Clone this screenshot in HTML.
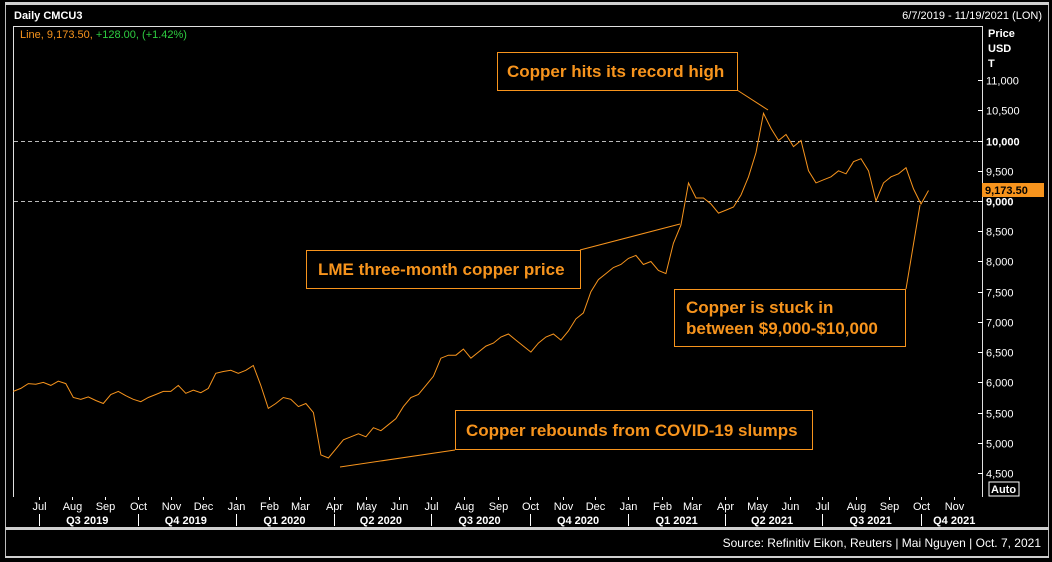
<!DOCTYPE html>
<html><head><meta charset="utf-8"><style>
body{margin:0;background:#000;width:1052px;height:562px;overflow:hidden;font-family:"Liberation Sans",sans-serif}
svg{display:block}
</style></head><body>
<svg id="chart" width="1052" height="562" xmlns="http://www.w3.org/2000/svg">
<rect x="0" y="0" width="1052" height="562" fill="#000"/>
<rect x="5" y="2" width="1044" height="3" fill="#cfcfcf"/>
<line x1="5.5" y1="5" x2="5.5" y2="557" stroke="#bdbdbd"/>
<line x1="1048.5" y1="5" x2="1048.5" y2="557" stroke="#bdbdbd"/>
<text x="14" y="19" fill="#fff" font-size="11" font-weight="bold">Daily CMCU3</text>
<text x="1042" y="19" fill="#fff" font-size="11" text-anchor="end">6/7/2019 - 11/19/2021 (LON)</text>
<path d="M13.5 497 V26.5 H982.5 V497" fill="none" stroke="#e0e0e0"/>
<text x="20" y="38" font-size="11"><tspan fill="#f7941d">Line, 9,173.50, </tspan><tspan fill="#2ecc40">+128.00, (+1.42%)</tspan></text>
<text x="988" y="37" fill="#fff" font-size="11" font-weight="bold">Price</text>
<text x="988" y="52" fill="#fff" font-size="11" font-weight="bold">USD</text>
<text x="988" y="67" fill="#fff" font-size="11" font-weight="bold">T</text>
<g id="yaxis"></g>
<g id="xaxis"></g>
<path id="series" fill="none" stroke="#f7941d" stroke-width="1"/>
<rect x="982" y="183" width="62" height="14" fill="#f7941d"/>
<text x="985" y="194" fill="#000" font-size="11" font-weight="bold">9,173.50</text>
<rect x="989" y="482" width="30" height="14" fill="#000" stroke="#fff"/>
<text x="991" y="493" fill="#fff" font-size="11" font-weight="bold">Auto</text>
<rect x="5" y="527" width="1044" height="3" fill="#cfcfcf"/>
<rect x="5" y="556" width="1044" height="2" fill="#cfcfcf"/>
<text x="1041" y="547" fill="#fff" font-size="12" text-anchor="end">Source: Refinitiv Eikon, Reuters | Mai Nguyen | Oct. 7, 2021</text>
<g font-size="17" font-weight="bold" fill="#f7941d" stroke="none">
<rect x="497.5" y="52.5" width="240" height="38" fill="#000" stroke="#f7941d"/>
<text x="507" y="77">Copper hits its record high</text>
<line x1="737" y1="90" x2="768" y2="110" stroke="#f7941d"/>
<rect x="306.5" y="250.5" width="274" height="38" fill="#000" stroke="#f7941d"/>
<text x="318" y="275">LME three-month copper price</text>
<line x1="580" y1="250" x2="680" y2="224" stroke="#f7941d"/>
<rect x="674.5" y="289.5" width="231" height="57" fill="#000" stroke="#f7941d"/>
<text x="686" y="313">Copper is stuck in</text>
<text x="686" y="334">between $9,000-$10,000</text>
<line x1="906" y1="289" x2="920" y2="205" stroke="#f7941d"/>
<rect x="455.5" y="410.5" width="357" height="39" fill="#000" stroke="#f7941d"/>
<text x="466" y="436">Copper rebounds from COVID-19 slumps</text>
<line x1="455" y1="450" x2="340" y2="467" stroke="#f7941d"/>
</g>
</svg>
<script>
const startDate = "2019-06-07";
const weeklyPrices = [5850,5900,5980,5970,6000,5950,6020,5980,5750,5720,5760,5700,5650,5800,5850,5780,5720,5680,5750,5800,5850,5850,5950,5820,5870,5830,5900,6150,6180,6200,6150,6200,6280,5950,5570,5650,5750,5720,5600,5650,5500,4800,4750,4900,5050,5100,5150,5100,5250,5200,5300,5400,5600,5750,5800,5950,6100,6400,6450,6450,6550,6400,6500,6600,6650,6750,6800,6700,6600,6500,6650,6750,6800,6700,6850,7050,7150,7500,7700,7800,7900,7950,8050,8100,7950,8000,7850,7800,8300,8600,9300,9050,9050,8950,8800,8850,8900,9100,9400,9800,10450,10200,10000,10100,9900,10000,9500,9300,9350,9400,9500,9450,9650,9700,9500,9000,9300,9400,9450,9550,9200,8950,9173.5];
const yTicks = [4500,5000,5500,6000,6500,7000,7500,8000,8500,9000,9500,10000,10500,11000];
const monthTicks = [["2019-07-01","Jul"],["2019-08-01","Aug"],["2019-09-01","Sep"],["2019-10-01","Oct"],["2019-11-01","Nov"],["2019-12-01","Dec"],["2020-01-01","Jan"],["2020-02-01","Feb"],["2020-03-01","Mar"],["2020-04-01","Apr"],["2020-05-01","May"],["2020-06-01","Jun"],["2020-07-01","Jul"],["2020-08-01","Aug"],["2020-09-01","Sep"],["2020-10-01","Oct"],["2020-11-01","Nov"],["2020-12-01","Dec"],["2021-01-01","Jan"],["2021-02-01","Feb"],["2021-03-01","Mar"],["2021-04-01","Apr"],["2021-05-01","May"],["2021-06-01","Jun"],["2021-07-01","Jul"],["2021-08-01","Aug"],["2021-09-01","Sep"],["2021-10-01","Oct"],["2021-11-01","Nov"]];
const quarterLabels = [["2019-08-15","Q3 2019"],["2019-11-15","Q4 2019"],["2020-02-15","Q1 2020"],["2020-05-15","Q2 2020"],["2020-08-15","Q3 2020"],["2020-11-15","Q4 2020"],["2021-02-15","Q1 2021"],["2021-05-15","Q2 2021"],["2021-08-15","Q3 2021"],["2021-11-01","Q4 2021"]];
const quarterBounds = ["2019-07-01","2019-10-01","2020-01-01","2020-04-01","2020-07-01","2020-10-01","2021-01-01","2021-04-01","2021-07-01","2021-10-01"];

const NS="http://www.w3.org/2000/svg";
const DAY=86400000, t0=Date.UTC(2019,6,1);
function dayOf(s){const p=s.split("-");return (Date.UTC(+p[0],p[1]-1,+p[2])-t0)/DAY;}
function xScale(d){return 39+d*1.0717;}
function yScale(v){return 201-(v-9000)*0.06046;}
function mk(tag,attrs,parent){const e=document.createElementNS(NS,tag);for(const k in attrs)e.setAttribute(k,attrs[k]);parent.appendChild(e);return e;}

const ya=document.getElementById("yaxis");
yTicks.forEach(v=>{
  const y=Math.round(yScale(v))+0.5;
  const t=mk("line",{x1:978,x2:983,y1:y,y2:y,stroke:"#fff"},ya);
  
  
  const bold=(v===9000||v===10000);
  const l=mk("text",{x:986,y:y+4,fill:"#fff","font-size":"11","font-weight":bold?"bold":"normal"},ya);
  
  
  l.textContent=v.toLocaleString("en-US");
  if(bold){
    const g=mk("line",{x1:14,x2:978,y1:y,y2:y,stroke:"#bbb","stroke-dasharray":"4,3"},ya);
    
    
  }
});
const xa=document.getElementById("xaxis");
monthTicks.forEach(m=>{
  const x=Math.round(xScale(dayOf(m[0])))+0.5;
  const t=mk("line",{x1:x,x2:x,y1:497,y2:500,stroke:"#fff"},xa);
  
  
  const l=mk("text",{x:x,y:510,fill:"#fff","font-size":"11","text-anchor":"middle"},xa);
  
  
  l.textContent=m[1];
});
quarterBounds.forEach(d=>{
  const x=Math.round(xScale(dayOf(d)))+0.5;
  const t=mk("line",{x1:x,x2:x,y1:514,y2:526,stroke:"#fff"},xa);
  
  
});
quarterLabels.forEach(q=>{
  const l=mk("text",{x:xScale(dayOf(q[0])),y:524,fill:"#fff","font-size":"11","font-weight":"bold","text-anchor":"middle"},xa);
  
  
  l.textContent=q[1];
});
const s0=dayOf(startDate);
let d="";
weeklyPrices.forEach((v,i)=>{d+=(i?"L":"M")+xScale(s0+i*7).toFixed(1)+" "+yScale(v).toFixed(1);});
document.getElementById("series").setAttribute("d",d);
</script>
</body></html>
